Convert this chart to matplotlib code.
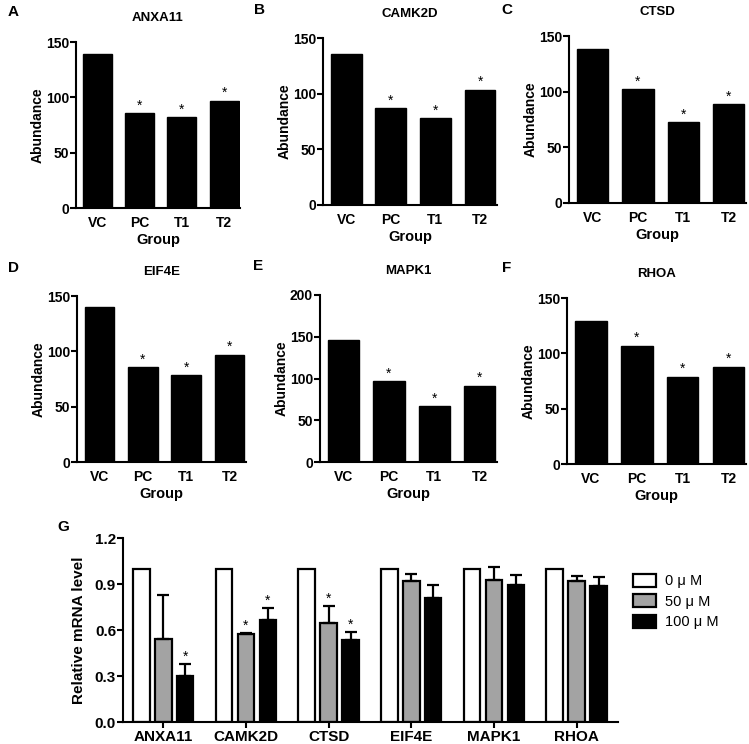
import matplotlib
matplotlib.use("Agg")
import matplotlib.pyplot as plt
import numpy as np
from matplotlib.patches import Patch

plt.rcParams['font.family'] = ['Liberation Sans', 'DejaVu Sans']

groups = ["VC", "PC", "T1", "T2"]
proteins = ["ANXA11", "CAMK2D", "CTSD", "EIF4E", "MAPK1", "RHOA"]
panel_letters = ["A", "B", "C", "D", "E", "F"]
abundance = {
    "ANXA11": [139.5, 85.5, 82.0, 97.0],
    "CAMK2D": [135.5, 87.0, 78.0, 103.5],
    "CTSD":   [138.5, 102.5, 72.5, 88.5],
    "EIF4E":  [140.5, 85.5, 78.5, 97.0],
    "MAPK1":  [146.5, 96.5, 66.5, 91.5],
    "RHOA":   [129.0, 107.0, 79.0, 88.0],
}
ymax = {"ANXA11": 150, "CAMK2D": 150, "CTSD": 150, "EIF4E": 150, "MAPK1": 200, "RHOA": 150}
ystep = {"ANXA11": 50, "CAMK2D": 50, "CTSD": 50, "EIF4E": 50, "MAPK1": 50, "RHOA": 50}
sig_abund = [False, True, True, True]

genes = ["ANXA11", "CAMK2D", "CTSD", "EIF4E", "MAPK1", "RHOA"]
doses = ["0 μ M", "50 μ M", "100 μ M"]
mrna_0 = [1.0, 1.0, 1.0, 1.0, 1.0, 1.0]
mrna_50 = [0.543, 0.572, 0.646, 0.917, 0.926, 0.922]
mrna_100 = [0.300, 0.663, 0.533, 0.809, 0.891, 0.887]
err_50 = [0.283, 0.011, 0.113, 0.046, 0.085, 0.032]
err_100 = [0.080, 0.080, 0.052, 0.087, 0.066, 0.059]
sig_50 = [False, True, True, False, False, False]
sig_100 = [True, True, True, False, False, False]

W, H = 749, 744
fig = plt.figure(figsize=(W / 100, H / 100), dpi=100)

def ax_px(l, r, t, b):
    return fig.add_axes([l / W, 1 - b / H, (r - l) / W, (b - t) / H])

panel_boxes = [
    (76, 240, 42, 208),
    (323, 497, 38, 205),
    (569, 746, 36, 203),
    (77, 246, 296, 462),
    (320, 497, 295, 462),
    (567, 746, 298, 464),
]
letter_pos = [(8, 12), (254, 10), (501, 10), (8, 268), (253, 266), (502, 268)]

for i, p in enumerate(proteins):
    l, r, t, b = panel_boxes[i]
    ax = ax_px(l, r, t, b)
    x = np.arange(len(groups))
    vals = abundance[p]
    ax.bar(x, vals, width=0.69, color="black", edgecolor="black")
    for xi, v, s in zip(x, vals, sig_abund):
        if s:
            ax.text(xi, v + ymax[p] * 0.003, "*", ha="center", va="bottom", fontsize=10)
    ax.set_xlim(-0.52, 3.38)
    ax.set_ylim(0, ymax[p])
    ax.set_yticks(np.arange(0, ymax[p] + 1, ystep[p]))
    ax.set_xticks(x)
    ax.set_xticklabels(groups)
    for sp in ["top", "right"]:
        ax.spines[sp].set_visible(False)
    for sp in ["left", "bottom"]:
        ax.spines[sp].set_linewidth(1.5)
    ax.tick_params(axis="x", length=0, pad=6, labelsize=10)
    ax.tick_params(axis="y", length=4, width=1.5, pad=1, labelsize=10)
    for lab in ax.get_xticklabels() + ax.get_yticklabels():
        lab.set_fontweight("bold")
    ax.set_xlabel("Group", fontsize=10.5, fontweight="bold", labelpad=2)
    ax.set_ylabel("Abundance", fontsize=10, fontweight="bold", labelpad=1)
    ax.set_title(p, fontsize=9.5, fontweight="bold", pad=15)
    lx, ly = letter_pos[i]
    fig.text(lx / W, 1 - ly / H, panel_letters[i], fontsize=11, fontweight="bold",
             ha="left", va="center")

# Panel G
axg = ax_px(123, 618, 538, 722)
xg = np.arange(len(genes))
bw = 0.2
off = 0.265
axg.bar(xg - off, mrna_0, width=bw, color="white", edgecolor="black", linewidth=1.6)
axg.bar(xg, mrna_50, width=bw, color="#a3a3a3", edgecolor="black", linewidth=1.6,
        yerr=[np.zeros(len(genes)), err_50], capsize=4,
        error_kw=dict(elinewidth=1.6, capthick=1.6, ecolor="black"))
axg.bar(xg + off, mrna_100, width=bw, color="black", edgecolor="black", linewidth=1.6,
        yerr=[np.zeros(len(genes)), err_100], capsize=4,
        error_kw=dict(elinewidth=1.6, capthick=1.6, ecolor="black"))
for xi, v, e, s in zip(xg, mrna_50, err_50, sig_50):
    if s:
        axg.text(xi, v + e + 0.002, "*", ha="center", va="bottom", fontsize=10)
for xi, v, e, s in zip(xg, mrna_100, err_100, sig_100):
    if s:
        axg.text(xi + off, v + e + 0.002, "*", ha="center", va="bottom", fontsize=10)
axg.set_xlim(-0.487, 5.50)
axg.set_ylim(0, 1.2)
axg.set_yticks([0.0, 0.3, 0.6, 0.9, 1.2])
axg.set_yticklabels(["0.0", "0.3", "0.6", "0.9", "1.2"])
axg.set_xticks(xg)
axg.set_xticklabels(genes)
for sp in ["top", "right"]:
    axg.spines[sp].set_visible(False)
for sp in ["left", "bottom"]:
    axg.spines[sp].set_linewidth(1.5)
axg.tick_params(axis="x", length=4, width=1.5, pad=2, labelsize=11)
axg.tick_params(axis="y", length=4, width=1.5, pad=1, labelsize=11)
for lab in axg.get_xticklabels() + axg.get_yticklabels():
    lab.set_fontweight("bold")
axg.set_ylabel("Relative mRNA level", fontsize=11, fontweight="bold", labelpad=6)
fig.text(57 / W, 1 - 527 / H, "G", fontsize=11, fontweight="bold", ha="left", va="center")

handles = [
    Patch(facecolor="white", edgecolor="black", linewidth=1.6, label=doses[0]),
    Patch(facecolor="#a3a3a3", edgecolor="black", linewidth=1.6, label=doses[1]),
    Patch(facecolor="black", edgecolor="black", linewidth=1.6, label=doses[2]),
]
fig.legend(handles=handles, loc="upper left", bbox_to_anchor=(627 / W, 1 - 568 / H),
           frameon=False, fontsize=10.5, handlelength=1.6, handleheight=1.0,
           handletextpad=0.6, labelspacing=0.4, borderaxespad=0)

fig.savefig("out.png", dpi=100)
